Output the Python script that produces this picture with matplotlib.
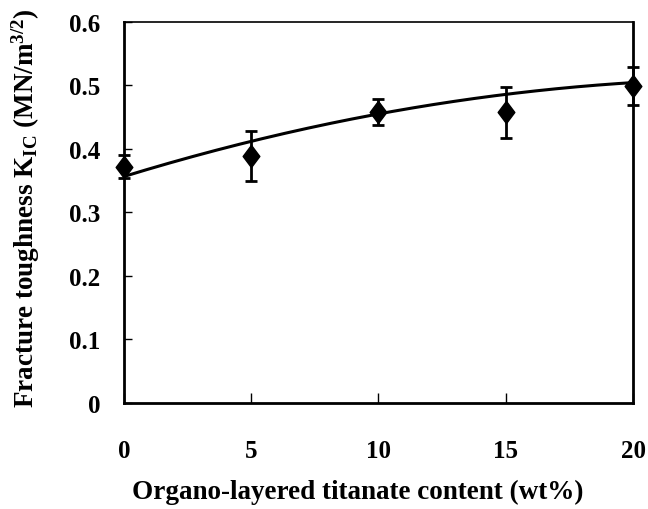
import numpy as np
import matplotlib
matplotlib.use('Agg')
import matplotlib.pyplot as plt

# data
content = [0, 5, 10, 15, 20]
kic = [0.372, 0.389, 0.458, 0.458, 0.499]
kic_err = [0.018, 0.040, 0.020, 0.040, 0.030]

# trend line values
curve_x = [0, 5, 10, 15, 20]
curve_y = [0.356, 0.413, 0.455, 0.485, 0.505]

x_ticks = [0, 5, 10, 15, 20]
y_ticks = [0, 0.1, 0.2, 0.3, 0.4, 0.5, 0.6]
y_tick_labels = ['0', '0.1', '0.2', '0.3', '0.4', '0.5', '0.6']

plt.rcParams['font.family'] = 'Liberation Serif'
plt.rcParams['font.weight'] = 'bold'
plt.rcParams['mathtext.fontset'] = 'custom'
plt.rcParams['mathtext.rm'] = 'Liberation Serif:bold'
plt.rcParams['mathtext.it'] = 'Liberation Serif:bold'
plt.rcParams['mathtext.bf'] = 'Liberation Serif:bold'

fig = plt.figure(figsize=(6.48, 5.10), dpi=100)
ax = fig.add_axes([0.191, 0.208, 0.786, 0.747])

# quadratic trend through the read curve points
coef = np.polyfit(curve_x, curve_y, 2)
xs = np.linspace(0, 20, 200)
ax.plot(xs, np.polyval(coef, xs), color='black', linewidth=2.2, zorder=2)

# slightly tall diamond like the original
tall_diamond = [(0, 1), (0.75, 0), (0, -1), (-0.75, 0), (0, 1)]
ax.errorbar(content, kic, yerr=kic_err, fmt='none', ecolor='black',
            elinewidth=2, capsize=4.5, capthick=2, zorder=3, clip_on=False)
ax.plot(content, kic, linestyle='none', marker=tall_diamond, markersize=16,
        color='black', zorder=4, clip_on=False)

ax.set_xlim(0, 20)
ax.set_ylim(0, 0.6)
ax.set_xticks(x_ticks)
ax.set_yticks(y_ticks)
ax.set_yticklabels(y_tick_labels)

for s in ax.spines.values():
    s.set_linewidth(2)
ax.spines['top'].set_linewidth(1.2)

ax.tick_params(axis='x', direction='in', length=7, width=1, pad=26,
               labelsize=18, top=False)
ax.tick_params(axis='y', direction='in', length=6, width=1, pad=17,
               labelsize=18, right=False)

ax.set_xlabel('Organo-layered titanate content (wt%)', fontsize=19.5,
              fontweight='bold')
ax.xaxis.set_label_coords(0.46, -0.2, transform=ax.transAxes)
ax.set_ylabel(r'Fracture toughness K$\mathregular{_{IC}}$ (MN/m$\mathregular{^{3/2}}$)',
              fontsize=19.5, fontweight='bold')
ax.yaxis.set_label_coords(-0.16, 0.515, transform=ax.transAxes)

fig.savefig('out.png', dpi=100)
